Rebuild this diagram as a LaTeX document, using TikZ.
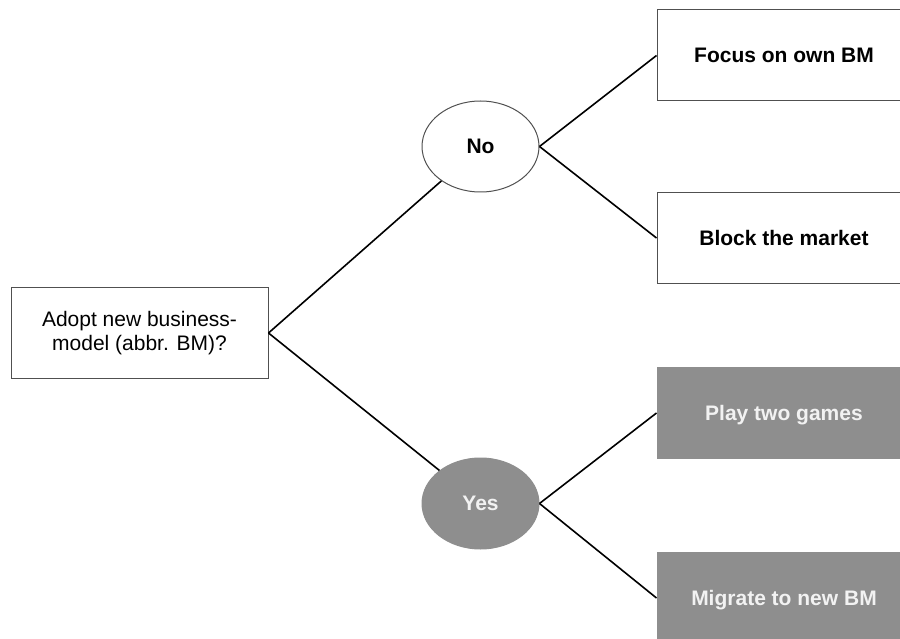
\documentclass[tikz,border=0pt]{standalone}
\usepackage{fontspec}
\setmainfont{Liberation Sans}
\usetikzlibrary{shapes.geometric}
\definecolor{boxgray}{RGB}{142,142,142}
\definecolor{edgegray}{RGB}{80,80,80}
\begin{document}
\begin{tikzpicture}[x=1pt,y=-1pt,
  question/.style={draw=edgegray,line width=1pt,fill=white,inner sep=0pt,
    minimum width=257pt,minimum height=90pt,align=center,
    font=\fontsize{21}{24}\selectfont},
  choice/.style={ellipse,draw=edgegray,line width=1pt,fill=white,inner sep=0pt,
    minimum width=117pt,minimum height=91pt,text depth=0pt,
    font=\fontsize{21}{24}\selectfont\bfseries},
  choicedark/.style={choice,draw=boxgray,fill=boxgray,text=white!95!black},
  outcome/.style={draw=edgegray,line width=1pt,fill=white,inner sep=0pt,
    minimum width=254pt,minimum height=91pt,text depth=0pt,
    font=\fontsize{21}{24}\selectfont\bfseries},
  outcomedark/.style={outcome,draw=boxgray,fill=boxgray,text=white!95!black},
  branch/.style={line width=1.6pt,black}]
\useasboundingbox (0,0) rectangle (900,639);
\clip (0,0) rectangle (900,639);
\fill[white] (0,0) rectangle (900,639);

% decision and its two answers
\node[question] (q) at (139.5,333) {Adopt new business-\\model (abbr. BM)?};
\node[choice] (no) at (480.5,146.5) {No};
\node[choicedark] (yes) at (480.5,503.5) {Yes};

% resulting strategies
\node[outcome] (focus) at (784,55.5) {Focus on own BM};
\node[outcome] (block) at (784,238) {Block the market};
\node[outcomedark] (play) at (784,413) {Play two games};
\node[outcomedark] (migrate) at (784,598) {Migrate to new BM};

% branches
\draw[branch] (q.east) -- (no);
\draw[branch] (q.east) -- (yes);
\draw[branch] (no.east) -- (focus.west);
\draw[branch] (no.east) -- (block.west);
\draw[branch] (yes.east) -- (play.west);
\draw[branch] (yes.east) -- (migrate.west);
\end{tikzpicture}
\end{document}
